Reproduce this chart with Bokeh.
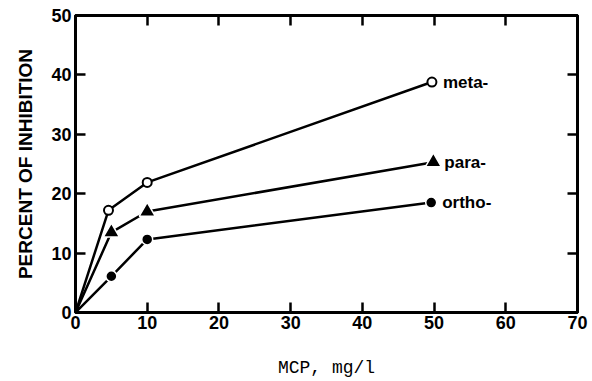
from bokeh.plotting import figure
from bokeh.models import LinearAxis, FixedTicker, Range1d, ColumnDataSource, CustomJSTickFormatter
from bokeh.core.properties import value
from bokeh.embed import file_html
from bokeh.resources import INLINE

meta_x = [0, 4.6, 10, 49.7]
meta_y = [0, 17.2, 21.9, 38.8]
para_x = [0, 5, 10, 49.9]
para_y = [0, 13.5, 17.0, 25.3]
ortho_x = [0, 5, 10, 49.6]
ortho_y = [0, 6.1, 12.3, 18.5]
labels = ["meta-", "para-", "ortho-"]
x_ticks = [0, 10, 20, 30, 40, 50, 60, 70]
y_ticks = [0, 10, 20, 30, 40, 50]

FONT = "Liberation Sans"

p = figure(width=592, height=381, output_backend="svg", toolbar_location=None,
           x_range=Range1d(0, 70), y_range=Range1d(0, 50),
           min_border_left=75, min_border_right=15, min_border_top=15, min_border_bottom=69,
           x_axis_label="MCP, mg/l", y_axis_label="PERCENT OF INHIBITION")
p.grid.visible = False
p.outline_line_color = "black"
p.outline_line_width = 3
p.background_fill_color = "white"
p.border_fill_color = "white"

for ax in (p.xaxis[0], p.yaxis[0]):
    ax.major_tick_in = 10
    ax.major_tick_out = 0
    ax.minor_tick_in = 0
    ax.minor_tick_out = 0
    ax.axis_line_width = 3
    ax.major_tick_line_width = 2.5
    ax.major_label_text_font = FONT
    ax.major_label_text_font_style = "bold"
    ax.major_label_text_font_size = "18px"
    ax.major_label_text_color = "black"
    ax.axis_label_text_color = "black"

p.xaxis[0].ticker = FixedTicker(ticks=x_ticks)
p.yaxis[0].ticker = FixedTicker(ticks=y_ticks)
p.xaxis[0].major_label_standoff = 3
p.yaxis[0].major_label_standoff = 4
p.xaxis[0].axis_label_text_font = "Liberation Mono"
p.xaxis[0].axis_label_text_font_style = "normal"
p.xaxis[0].axis_label_text_font_size = "18px"
p.xaxis[0].axis_label_standoff = 26
p.yaxis[0].axis_label_text_font = FONT
p.yaxis[0].axis_label_text_font_style = "bold"
p.yaxis[0].axis_label_text_font_size = "19px"
p.yaxis[0].axis_label_standoff = 12

blank = CustomJSTickFormatter(code="return '';")
top = LinearAxis(ticker=FixedTicker(ticks=x_ticks), formatter=blank,
                 major_tick_in=10, major_tick_out=0, minor_tick_in=0, minor_tick_out=0,
                 axis_line_width=3, major_tick_line_width=2.5, major_label_standoff=0)
right = LinearAxis(ticker=FixedTicker(ticks=y_ticks), formatter=blank,
                   major_tick_in=10, major_tick_out=0, minor_tick_in=0, minor_tick_out=0,
                   axis_line_width=3, major_tick_line_width=2.5, major_label_standoff=0)
p.add_layout(top, "above")
p.add_layout(right, "right")

lw = 2.5
p.line(meta_x, meta_y, line_color="black", line_width=lw)
p.line(para_x, para_y, line_color="black", line_width=lw)
p.line(ortho_x, ortho_y, line_color="black", line_width=lw)

p.scatter(meta_x[1:], meta_y[1:], marker="circle", size=9, fill_color="white",
          line_color="black", line_width=2)
p.scatter(para_x[1:], para_y[1:], marker="triangle", size=16, fill_color="black",
          line_color="white", line_width=1.5)
p.scatter(ortho_x[1:], ortho_y[1:], marker="circle", size=11, fill_color="black",
          line_color="white", line_width=1.5)

lab_src = ColumnDataSource(dict(x=[meta_x[-1], para_x[-1], ortho_x[-1]],
                                y=[meta_y[-1], para_y[-1], ortho_y[-1]],
                                t=labels))
p.text(x="x", y="y", text="t", source=lab_src, x_offset=11, text_baseline="middle",
       text_font=value(FONT), text_font_style="bold", text_font_size="17px",
       text_color="black")

open("out.html", "w").write(file_html(p, INLINE))
